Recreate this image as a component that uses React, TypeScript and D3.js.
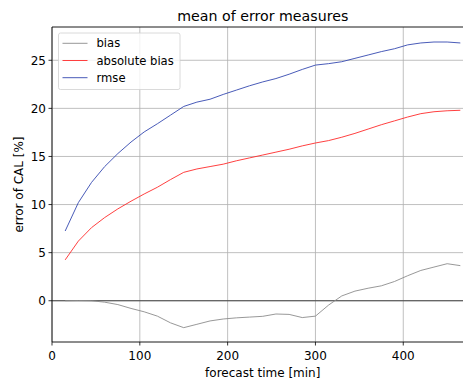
import React from "react";
import * as d3 from "d3";

const times = [15, 30, 45, 60, 75, 90, 105, 120, 135, 150, 165, 180, 195, 210, 225, 240, 255, 270, 285, 300, 315, 330, 345, 360, 375, 390, 405, 420, 435, 450, 465];
const bias = [0.0, 0.02, 0.0, -0.15, -0.4, -0.8, -1.15, -1.6, -2.3, -2.8, -2.45, -2.1, -1.9, -1.78, -1.7, -1.62, -1.38, -1.42, -1.75, -1.6, -0.45, 0.5, 1.0, 1.3, 1.55, 2.0, 2.6, 3.15, 3.5, 3.85, 3.65];
const absBias = [4.25, 6.2, 7.6, 8.65, 9.55, 10.35, 11.1, 11.8, 12.6, 13.35, 13.7, 13.95, 14.2, 14.55, 14.85, 15.15, 15.45, 15.75, 16.1, 16.4, 16.65, 17.0, 17.4, 17.85, 18.3, 18.7, 19.1, 19.45, 19.65, 19.75, 19.8];
const rmse = [7.25, 10.2, 12.3, 13.95, 15.3, 16.5, 17.55, 18.4, 19.3, 20.2, 20.65, 20.95, 21.45, 21.9, 22.35, 22.75, 23.1, 23.55, 24.05, 24.5, 24.65, 24.85, 25.2, 25.55, 25.9, 26.2, 26.6, 26.8, 26.9, 26.9, 26.8];

const xTicks = [0, 100, 200, 300, 400];
const yTicks = [0, 5, 10, 15, 20, 25];

const seriesNames = ["bias", "absolute bias", "rmse"];
const seriesColors = ["#8c8c8c", "#ff2a2a", "#3448b0"];

const W = 463, H = 380;
const left = 52, right = 473.5, top = 27, bottom = 342;

export default function App() {
  const x = d3.scaleLinear().domain([0, 480]).range([left, right]);
  const y = d3.scaleLinear().domain([-4.29, 28.46]).range([bottom, top]);
  const allSeries = [bias, absBias, rmse];
  const line = d3.line<number>().x((_, i) => x(times[i])).y((d) => y(d));
  const font = "DejaVu Sans, sans-serif";
  return (
    <svg width={W} height={H} style={{ position: "absolute", left: 0, top: 0, background: "#fff" }} fontFamily={font}>
      <defs>
        <clipPath id="plotclip">
          <rect x={left} y={top} width={right - left} height={bottom - top} />
        </clipPath>
      </defs>
      <rect x={0} y={0} width={W} height={H} fill="#fff" />
      {/* grid */}
      {xTicks.map((t) => (
        <line key={"gx" + t} x1={x(t)} x2={x(t)} y1={top} y2={bottom} stroke="#b0b0b0" strokeWidth={0.8} />
      ))}
      {yTicks.map((t) => (
        <line key={"gy" + t} x1={left} x2={right} y1={y(t)} y2={y(t)} stroke="#b0b0b0" strokeWidth={0.8} />
      ))}
      {/* zero line */}
      <line x1={left} x2={right} y1={y(0)} y2={y(0)} stroke="#444" strokeWidth={1.2} />
      <g clipPath="url(#plotclip)">
        {allSeries.map((s, i) => (
          <path key={i} d={line(s) || ""} fill="none" stroke={seriesColors[i]} strokeWidth={0.9} />
        ))}
      </g>
      {/* spines */}
      <line x1={left} x2={left} y1={top} y2={bottom} stroke="#000" strokeWidth={0.9} />
      <line x1={left} x2={right} y1={bottom} y2={bottom} stroke="#000" strokeWidth={0.9} />
      <line x1={left} x2={right} y1={top} y2={top} stroke="#000" strokeWidth={0.9} />
      <line x1={right} x2={right} y1={top} y2={bottom} stroke="#000" strokeWidth={0.9} />
      {/* ticks */}
      {xTicks.map((t) => (
        <g key={"tx" + t}>
          <line x1={x(t)} x2={x(t)} y1={bottom} y2={bottom + 3.5} stroke="#000" strokeWidth={0.8} />
          <text x={x(t)} y={360} fontSize={12} textAnchor="middle" fill="#000">{t}</text>
        </g>
      ))}
      {yTicks.map((t) => (
        <g key={"ty" + t}>
          <line x1={left - 3.5} x2={left} y1={y(t)} y2={y(t)} stroke="#000" strokeWidth={0.8} />
          <text x={left - 6} y={y(t) + 4.3} fontSize={12} textAnchor="end" fill="#000">{t}</text>
        </g>
      ))}
      {/* labels */}
      <text x={(left + right) / 2} y={20.5} fontSize={14.2} textAnchor="middle" fill="#000">mean of error measures</text>
      <text x={(left + right) / 2} y={376.5} fontSize={12} textAnchor="middle" fill="#000">forecast time [min]</text>
      <text transform={`translate(22.5,${(top + bottom) / 2}) rotate(-90)`} fontSize={12} textAnchor="middle" fill="#000">error of CAL [%]</text>
      {/* legend */}
      <rect x={58.5} y={33} width={121.5} height={56.5} rx={2} fill="#fff" fillOpacity={0.8} stroke="#d0d0d0" strokeWidth={0.8} />
      {seriesNames.map((n, i) => (
        <g key={n}>
          <line x1={62.5} x2={87.5} y1={43.3 + i * 17.2} y2={43.3 + i * 17.2} stroke={seriesColors[i]} strokeWidth={0.9} />
          <text x={96.5} y={43.3 + i * 17.2 + 4.1} fontSize={11.6} fill="#000">{n}</text>
        </g>
      ))}
    </svg>
  );
}
